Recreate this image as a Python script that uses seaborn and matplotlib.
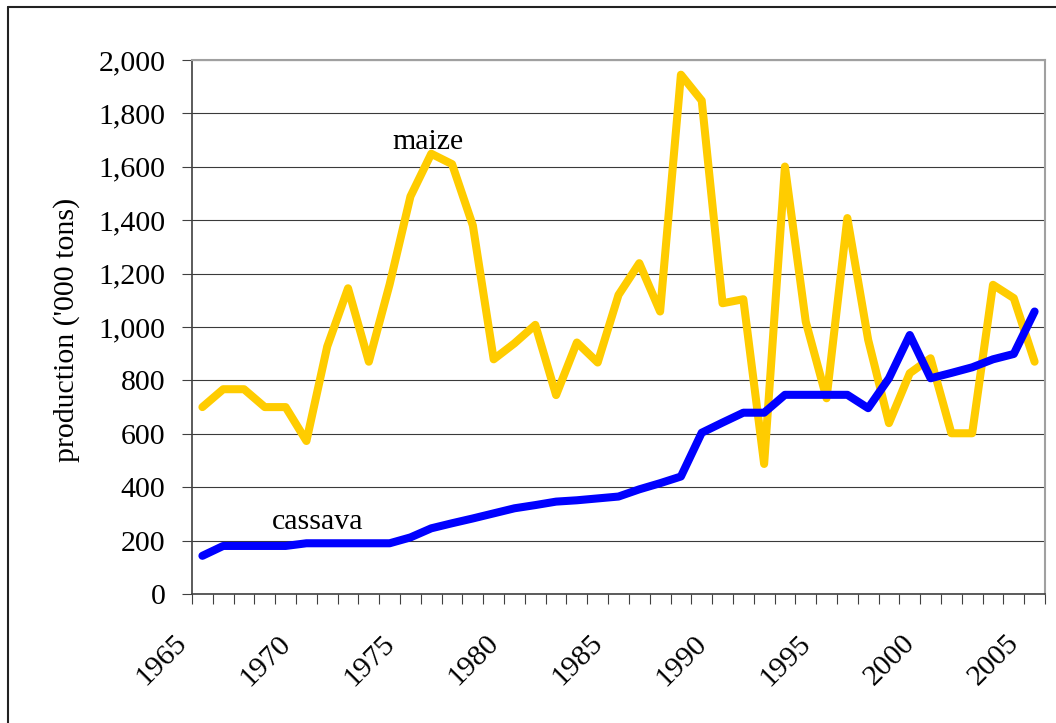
"""
Production of maize and cassava, 1965-2005
"""

import matplotlib
matplotlib.use('Agg')
import matplotlib.pyplot as plt
import matplotlib.transforms as mtransforms
from matplotlib.lines import Line2D
from matplotlib.ticker import FuncFormatter
import seaborn as sns
import numpy as np
import pandas as pd

# Data ('000 tons)
years = list(range(1965, 2006))
maize = [700, 767, 767, 700, 700, 573, 927, 1145, 870, 1160,
         1489, 1649, 1610, 1380, 879, 939, 1008, 745, 942, 867,
         1120, 1239, 1058, 1945, 1848, 1089, 1104, 487, 1601, 1020,
         733, 1408, 952, 640, 827, 883, 602, 602, 1158, 1108,
         870]
cassava = [143, 180, 180, 180, 180, 190, 190, 190, 190, 190,
           212, 246, 265, 283, 302, 321, 333, 346, 351, 358,
           365, 392, 415, 440, 604, 642, 679, 679, 746, 746,
           746, 746, 696, 808, 970, 808, 828, 849, 879, 899,
           1058]
crops = ['maize', 'cassava']
colors = {'maize': '#FFCC00', 'cassava': '#0000FF'}
y_ticks = list(range(0, 2001, 200))
x_labels = list(range(1965, 2006, 5))

sns.set_style("white")
plt.rcParams['font.family'] = ['Liberation Serif', 'DejaVu Serif']
plt.rcParams['text.color'] = 'black'
FS = 21.5

df = pd.DataFrame({'year': years * 2,
                   'value': maize + cassava,
                   'crop': ['maize'] * len(years) + ['cassava'] * len(years)})

fig = plt.figure(figsize=(10.56, 7.23), dpi=100)
ax = fig.add_axes([192 / 1056, 1 - 594 / 723, 853 / 1056, (594 - 60) / 723])

sns.lineplot(data=df, x='year', y='value', hue='crop', hue_order=crops,
             palette=colors, linewidth=5.8, legend=False, ax=ax,
             solid_joinstyle='round', solid_capstyle='round')

ax.set_xlim(years[0] - 0.5, years[-1] + 0.5)
ax.set_ylim(0, 2000)

# y axis
ax.set_yticks(y_ticks)
ax.yaxis.set_major_formatter(FuncFormatter(lambda v, p: f'{v:,.0f}'))
ax.tick_params(axis='y', which='major', direction='out', length=7.2, width=0.8,
               color='#404040', labelcolor='black', pad=12, labelsize=FS, left=True)
ax.grid(axis='y', color='#3a3a3a', linewidth=0.8)
ax.set_axisbelow(True)
ax.set_ylabel('')
fig.text(67 / 1056, 1 - 330 / 723, "production ('000 tons)", rotation=90,
         ha='center', va='center', fontsize=FS, color='black')

# x axis: ticks between categories, labels every 5 years
ax.set_xlabel('')
ax.set_xticks(np.arange(years[0] - 0.5, years[-1] + 1), minor=True)
ax.set_xticks(x_labels)
ax.set_xticklabels([str(y) for y in x_labels], rotation=45, ha='right', va='top')
ax.tick_params(axis='x', which='minor', direction='out', length=7.2, width=0.8,
               color='#404040', bottom=True)
ax.tick_params(axis='x', which='major', length=0, pad=26, labelsize=FS,
               labelcolor='black', bottom=True)
shift = mtransforms.ScaledTranslation(-11 / 100, 0, fig.dpi_scale_trans)
for lab in ax.get_xticklabels():
    lab.set_transform(lab.get_transform() + shift)

# spines
for s in ['left', 'bottom']:
    ax.spines[s].set_color('#404040')
    ax.spines[s].set_linewidth(1.2)
for s in ['top', 'right']:
    ax.spines[s].set_color('#A0A0A0')
    ax.spines[s].set_linewidth(1.5)

# series labels
ax.text(1975.82, 1667, 'maize', ha='center', va='baseline', fontsize=FS, color='black')
ax.text(1970.53, 242, 'cassava', ha='center', va='baseline', fontsize=FS, color='black')

# outer chart border (cut by the image edge on the right and bottom)
bx, by = 8 / 1056, 1 - 7 / 723
fig.add_artist(Line2D([bx, bx], [by, 0], transform=fig.transFigure,
                      color='#222222', linewidth=1.5))
fig.add_artist(Line2D([bx, 1], [by, by], transform=fig.transFigure,
                      color='#222222', linewidth=1.5))

fig.savefig('out.png', dpi=100)
